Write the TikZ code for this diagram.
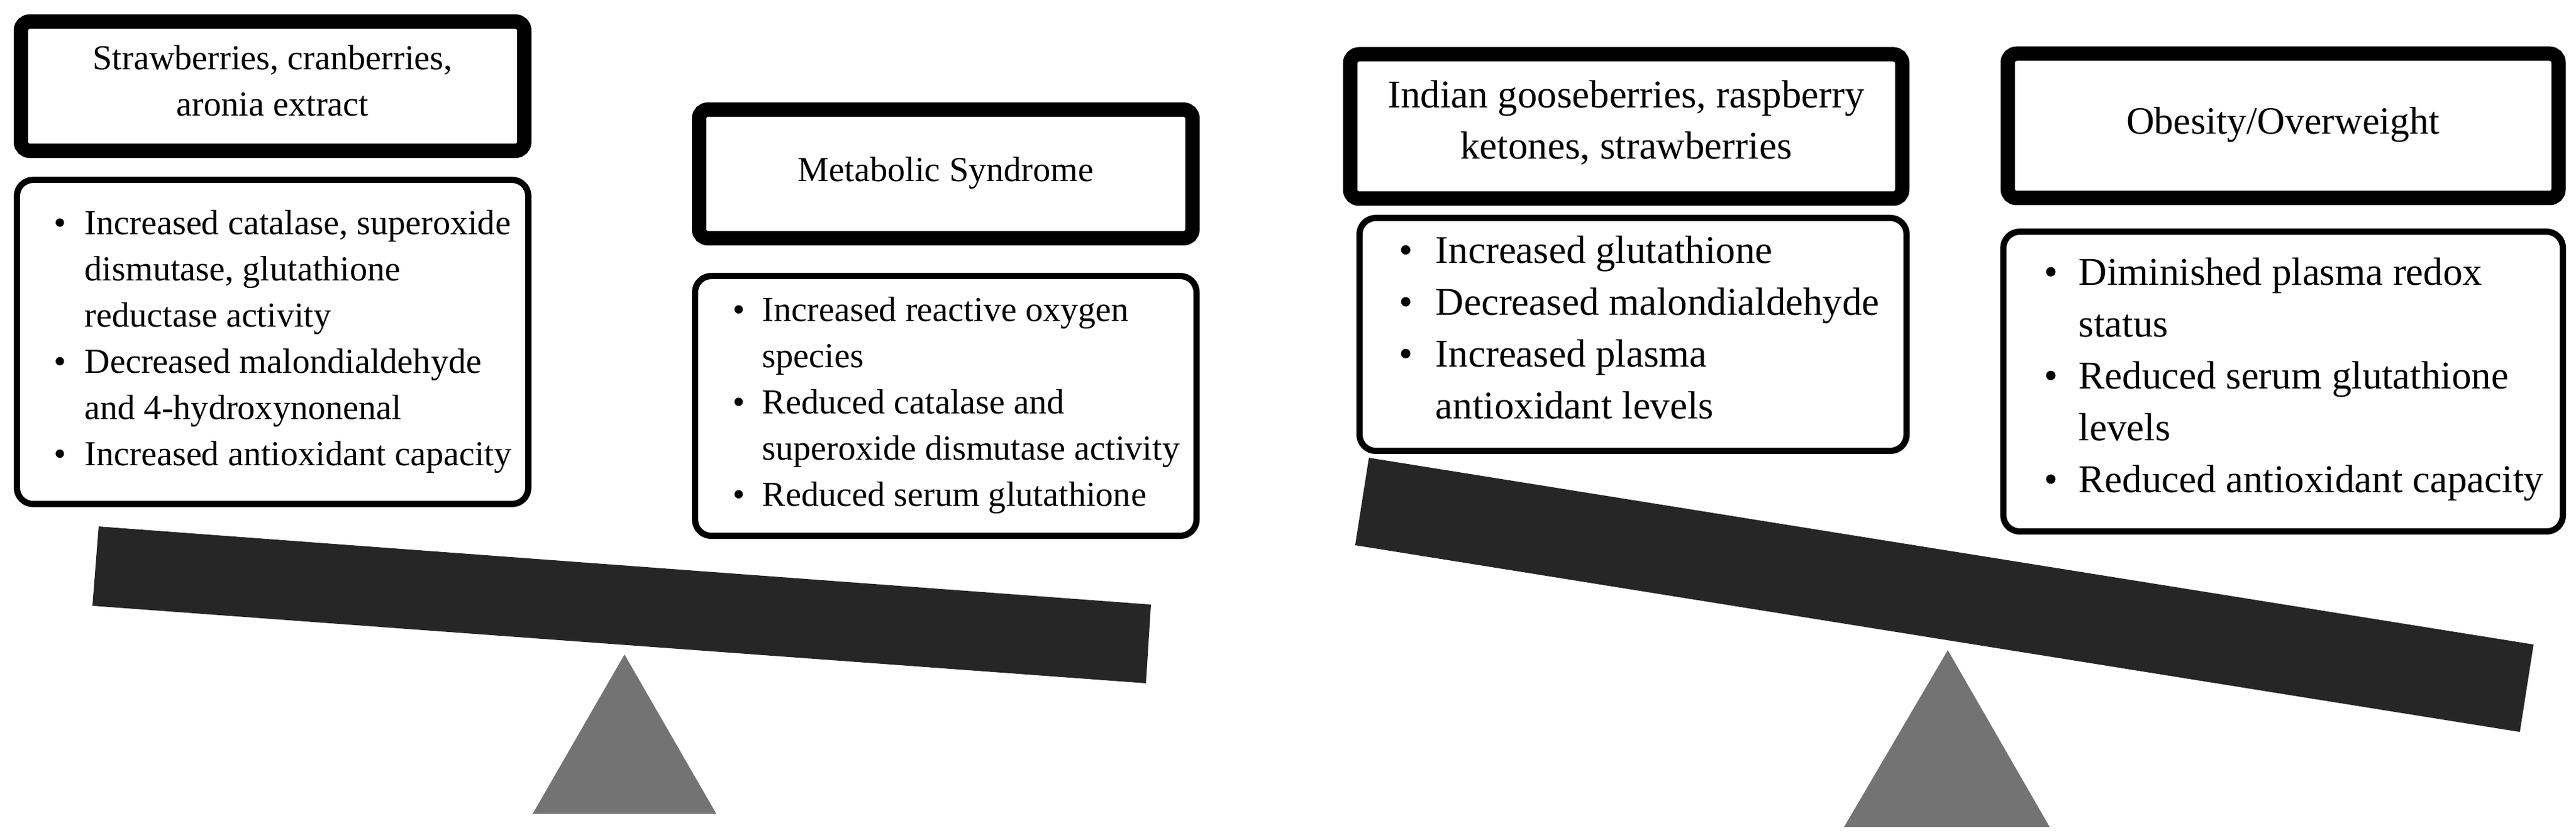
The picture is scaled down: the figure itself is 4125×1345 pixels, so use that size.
\documentclass[tikz,border=0pt]{standalone}
\usepackage{fontspec}
\setmainfont{Liberation Serif}
\newlength\px \setlength\px{0.1mm}
\definecolor{beamc}{HTML}{262626}
\definecolor{fulcc}{HTML}{737373}
\newcommand\lefttitlefont{\fontsize{16pt}{20.8pt}\selectfont}
\newcommand\leftlistfont{\fontsize{16pt}{21pt}\selectfont}
\newcommand\righttitlefont{\fontsize{17.9pt}{23.05pt}\selectfont}
\newcommand\rightlistfont{\fontsize{17.9pt}{23.6pt}\selectfont}
\newcommand\mybul[1]{\makebox[#1\px]{•}}
\tikzset{
  titlebox/.style={draw=black, line width=23\px, rounded corners=14\px, inner sep=0pt, fill=white},
  listbox/.style={draw=black, line width=10\px, rounded corners=26\px, inner sep=0pt, fill=white},
  txt/.style={inner sep=0pt, anchor=base},
  lst/.style={inner sep=0pt, anchor=base west},
  beam/.style={fill=beamc},
  fulcrum/.style={fill=fulcc}
}
\begin{document}
\begin{tikzpicture}[x=0.1mm,y=-0.1mm]
\useasboundingbox (0,0) rectangle (4125,1345);
\fill[white] (0,0) rectangle (4125,1345);

% ---------- left seesaw ----------
\fill[beam] (158,843) -- (1843,968) -- (1835,1094) -- (148,970) -- cycle;
\fill[fulcrum] (1000,1048) -- (1147,1303) -- (853,1303) -- cycle;

\node[titlebox, minimum width=806\px, minimum height=207\px] (t1) at (436.5,138) {};
\node[txt, font=\lefttitlefont] (t1text) at (436.5,112)
  {\begin{tabular}[t]{@{}c@{}}Strawberries, cranberries,\\ aronia extract\end{tabular}};

\node[listbox, minimum width=819\px, minimum height=519\px] (l1) at (436.5,547.5) {};
\node[lst, font=\leftlistfont] (l1text) at (57,376)
  {\begin{tabular}[t]{@{}c@{}l@{}}
   \mybul{78} & Increased catalase, superoxide\\
              & dismutase, glutathione\\
              & reductase activity\\
   \mybul{78} & Decreased malondialdehyde\\
              & and 4-hydroxynonenal\\
   \mybul{78} & Increased antioxidant capacity
   \end{tabular}};

\node[titlebox, minimum width=790\px, minimum height=206\px] (t2) at (1514.5,278.5) {};
\node[txt, font=\lefttitlefont] (t2text) at (1514.5,291) {Metabolic Syndrome};

\node[listbox, minimum width=803\px, minimum height=416\px] (l2) at (1514.5,650) {};
\node[lst, font=\leftlistfont] (l2text) at (1146,515)
  {\begin{tabular}[t]{@{}c@{}l@{}}
   \mybul{74} & Increased reactive oxygen\\
              & species\\
   \mybul{74} & Reduced catalase and\\
              & superoxide dismutase activity\\
   \mybul{74} & Reduced serum glutathione
   \end{tabular}};

% ---------- right seesaw ----------
\fill[beam] (2192,733) -- (4057,1032) -- (4035,1172) -- (2170,873) -- cycle;
\fill[fulcrum] (3119,1041) -- (3282,1324) -- (2953,1324) -- cycle;

\node[titlebox, minimum width=884\px, minimum height=231\px] (t3) at (2604,202.5) {};
\node[txt, font=\righttitlefont] (t3text) at (2604,173)
  {\begin{tabular}[t]{@{}c@{}}Indian gooseberries, raspberry\\ ketones, strawberries\end{tabular}};

\node[listbox, minimum width=876\px, minimum height=373\px] (l3) at (2615,535.5) {};
\node[lst, font=\rightlistfont] (l3text) at (2204,422)
  {\begin{tabular}[t]{@{}c@{}l@{}}
   \mybul{94} & Increased glutathione\\
   \mybul{94} & Decreased malondialdehyde\\
   \mybul{94} & Increased plasma\\
              & antioxidant levels
   \end{tabular}};

\node[titlebox, minimum width=882\px, minimum height=231\px] (t4) at (3656,201.5) {};
\node[txt, font=\fontsize{17.6pt}{23pt}\selectfont] (t4text) at (3656,215) {Obesity/Overweight};

\node[listbox, minimum width=896\px, minimum height=480\px] (l4) at (3656,611) {};
\node[lst, font=\rightlistfont] (l4text) at (3240,457)
  {\begin{tabular}[t]{@{}c@{}l@{}}
   \mybul{88} & Diminished plasma redox\\
              & status\\
   \mybul{88} & Reduced serum glutathione\\
              & levels\\
   \mybul{88} & Reduced antioxidant capacity
   \end{tabular}};
\end{tikzpicture}
\end{document}
